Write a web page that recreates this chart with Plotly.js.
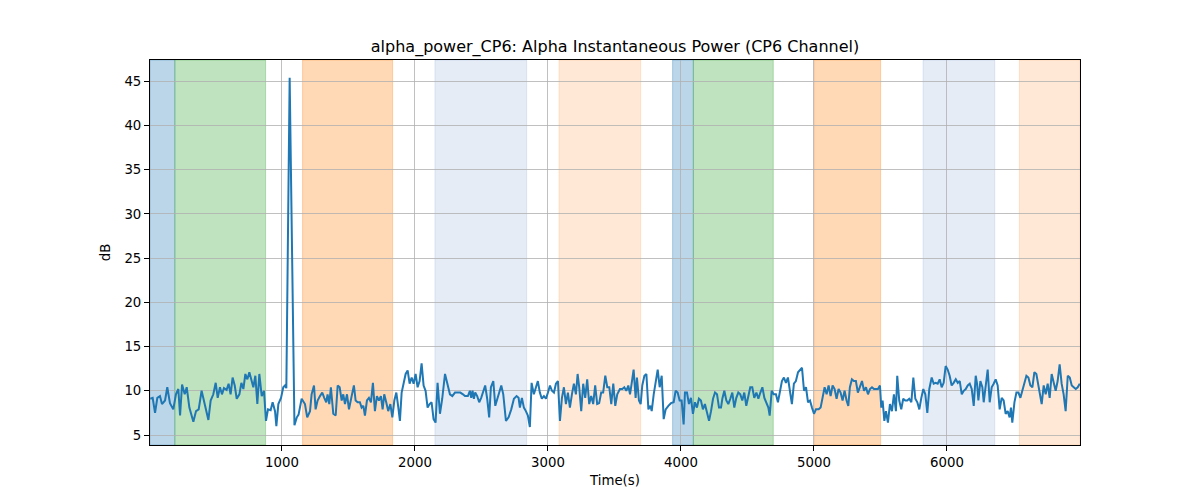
<!DOCTYPE html>
<html>
<head>
<meta charset="utf-8">
<script src="https://cdn.plot.ly/plotly-3.0.1.min.js"></script>
<style>html,body{margin:0;padding:0;background:#fff;}#chart{width:1200px;height:500px;}</style>
</head>
<body>
<div id="chart"></div>
<script>
// ---- data ----
const times = [
10,28,46,63,83,98,121,138,158,183,203,221,234,249,269,284,304,321,334,354,374,396,409,429,447,464,484,502,517,534,549,564,584,599,614,629,645,660,680,695,710,725,740,755,770,785,800,815,830,848,865,880,895,915,930,948,958,973,993,1010,1023,1033,1058,1094,1112,1125,1148,1173,1190,
1211,1223,1241,1253,1268,1286,1303,1318,1333,1343,1356,1368,1386,1404,1419,1434,1449,1461,1474,1489,1504,1524,1541,1554,1569,1586,1599,1612,1624,1639,1654,1669,1684,1699,1714,1729,1744,1757,1769,1784,1799,1815,1830,1845,1860,1875,1887,1900,1915,1930,1945,1960,1975,1990,2005,2020,2035,2050,2065,2080,2095,2110,2125,2140,2155,2170,2188,2205,2226,2246,2263,2281,2301,2321,2341,2361,2376,
2398,2413,2423,2433,2443,2453,2468,2483,2498,2513,2528,2543,2558,2571,2589,2604,2619,2634,2649,2664,2684,2704,2724,2744,2764,2779,2789,2804,2819,2834,2849,2864,2877,2894,2914,2924,2939,2954,2970,2985,3000,3015,3030,3045,3060,3075,3090,3105,3120,3135,3150,3165,3180,3195,3210,3223,3235,3250,3265,3280,3295,3310,3325,3340,3355,3370,3385,3400,3415,3431,3446,3461,3476,3491,3506,3521,3541,
3559,3574,3589,3604,3617,3629,3644,3659,3669,3684,3697,3709,3725,3740,3755,3770,3780,3795,3810,3825,3840,3855,3870,3885,3905,3925,3945,3960,3975,3990,4005,4020,4030,4045,4060,4075,4090,4105,4120,4135,4150,4165,4180,4196,4211,4226,4241,4256,4271,4286,4301,4311,4326,4341,4356,4371,4386,4401,4416,4431,4446,4461,4476,4491,4506,4521,4536,4551,4567,4582,4597,4612,4627,4642,4657,4667,4682,4697,
4714,4729,4744,4759,4774,4789,4804,4819,4834,4849,4864,4880,4895,4910,4925,4940,4955,4970,4985,5000,5015,5035,5050,5065,5080,5095,5110,5125,5140,5155,5170,5185,5200,5215,5230,5245,5258,5270,5285,5300,5315,5330,5346,5361,5376,5391,5406,5421,5436,5451,5466,5481,5496,5506,5516,5529,5541,5556,5571,5586,5601,5616,5626,5641,5656,5671,5686,5701,5716,5732,5747,5762,5777,5792,5807,5822,5837,5852,5867,
5885,5900,5915,5930,5945,5960,5975,5990,6005,6020,6035,6050,6066,6081,6096,6111,6126,6141,6156,6171,6186,6201,6216,6226,6236,6251,6266,6276,6291,6306,6321,6336,6351,6366,6381,6396,6411,6426,6441,6456,6471,6481,6491,6507,6522,6537,6552,6567,6582,6597,6612,6627,6642,6657,6672,6687,6702,6712,6727,6742,6757,6772,6787,6802,6817,6832,6847,6862,6877,6892,6908,6923,6938,6953,6968,6983,6998
];
const alphaPower = [
9.1,9.2,7.5,9.2,9.4,8.5,8.9,10.4,8.6,7.9,9.6,10.2,7.2,10.7,9.6,10.4,8.1,7.2,6.5,7.7,7.9,10.0,9.2,7.7,6.7,8.9,9.6,10.9,9.2,10.4,9.6,10.3,10.1,10.8,9.6,11.5,10.6,9.1,9.6,10.9,10.2,11.9,11.3,12.1,11.3,10.4,11.7,8.5,11.9,9.4,10.0,6.6,7.9,7.8,8.7,7.7,6.0,8.5,9.2,10.4,10.6,10.3,45.4,6.1,7.0,7.3,9.1,8.5,7.0,
7.7,9.6,10.6,7.9,8.9,9.4,9.8,9.2,8.7,9.6,8.5,10.4,7.4,7.2,10.6,10.4,8.9,9.6,8.5,9.6,7.9,9.4,10.6,8.9,8.7,8.7,8.1,8.3,7.2,8.9,9.2,8.7,10.9,7.7,9.4,8.9,9.4,7.9,9.6,8.7,7.7,8.5,7.0,8.9,9.8,8.1,6.6,9.8,11.1,11.9,12.3,10.8,11.5,10.8,11.9,10.4,11.1,13.1,10.6,10.0,8.1,8.5,8.7,6.8,6.4,10.9,7.4,9.1,11.9,10.8,9.6,9.4,9.8,9.8,9.8,9.6,9.4,
9.4,10.0,9.2,10.0,9.1,9.8,9.4,8.7,9.2,10.0,10.6,9.1,7.0,10.4,11.1,8.3,9.1,10.0,10.6,9.6,6.6,7.0,7.9,9.1,9.4,9.2,8.1,9.2,8.1,7.7,7.2,5.9,10.9,9.6,10.6,11.1,9.8,9.1,9.4,9.1,9.8,10.6,10.0,9.8,10.8,11.1,6.6,9.2,10.4,8.5,9.8,8.1,9.6,10.8,9.6,11.9,10.4,7.7,10.8,9.2,11.3,8.5,9.4,8.5,10.6,8.5,8.6,9.8,9.8,11.7,10.4,10.4,8.5,10.8,8.3,9.6,10.2,
10.2,10.4,10.0,10.6,9.6,10.8,12.4,9.2,11.5,8.9,8.5,10.6,11.7,11.9,7.9,8.3,7.7,9.6,10.9,12.4,10.4,11.7,6.8,7.9,8.3,8.6,8.7,10.0,9.8,8.9,8.9,6.2,9.8,9.8,8.5,9.2,7.4,8.7,8.1,9.1,8.9,7.9,8.5,7.4,6.6,7.7,9.1,9.8,9.6,8.1,8.1,9.1,10.0,8.9,8.5,9.1,9.8,8.1,9.2,9.8,9.6,8.9,9.8,8.3,9.2,10.4,10.4,9.2,9.8,9.1,9.8,10.4,9.2,8.7,8.1,7.2,10.0,9.6,
9.6,8.7,10.0,11.1,11.5,10.9,11.5,10.2,8.5,10.8,11.1,12.1,12.3,12.6,10.0,10.4,8.7,8.9,8.1,7.4,7.9,7.9,8.1,9.2,10.4,9.6,10.6,9.4,10.6,10.2,9.1,10.2,9.8,8.9,10.0,8.9,8.3,10.4,11.3,11.1,11.1,9.8,10.6,11.1,10.0,10.4,9.6,10.2,10.4,10.2,10.2,10.2,10.6,8.1,8.9,6.6,7.7,6.4,8.5,7.7,9.6,7.7,11.7,8.9,7.9,9.1,8.9,8.9,9.1,8.7,11.5,9.1,8.7,7.9,9.2,10.2,9.6,7.5,10.2,
11.5,10.8,10.9,10.8,11.3,10.4,10.9,12.8,12.4,11.7,10.6,10.9,11.3,10.9,11.1,9.6,10.0,10.2,10.6,10.8,10.2,8.3,11.7,10.8,8.9,11.1,10.4,8.7,10.8,12.4,8.7,10.4,10.8,11.3,10.6,7.9,9.2,8.9,7.4,7.7,7.0,8.1,6.4,8.7,9.8,9.8,9.2,10.0,10.8,11.7,11.5,10.6,10.4,12.1,11.9,10.6,9.6,8.5,10.6,9.6,10.8,9.2,11.9,11.1,10.0,11.1,13.0,10.8,9.6,7.7,11.7,11.5,10.6,10.4,10.2,10.4,10.8
];
// shaded segments (start, end in seconds) and their kind
const regionStart = [10, 195, 1155, 2150, 3083, 3937, 4093, 5002, 5820, 6544];
const regionEnd   = [195, 877, 1832, 2840, 3697, 4093, 4694, 5501, 6359, 7000];
const regionKind  = ["blue","green","orange","lightblue","lightorange","blue","green","orange","lightblue","lightorange"];
const xTicks = [1000, 2000, 3000, 4000, 5000, 6000];
const yTicks = [5, 10, 15, 20, 25, 30, 35, 40, 45];

// ---- styles ----
const kindStyle = {
  blue:        {fill: "rgba(31,119,180,0.3)",  line: "rgba(31,119,180,0.3)"},
  green:       {fill: "rgba(44,160,44,0.3)",   line: "rgba(44,160,44,0.3)"},
  orange:      {fill: "rgba(255,127,14,0.3)",  line: "rgba(255,127,14,0.3)"},
  lightblue:   {fill: "rgba(82,128,195,0.15)", line: "rgba(82,128,195,0.15)"},
  lightorange: {fill: "rgba(255,127,14,0.17)", line: "rgba(255,127,14,0.17)"}
};
const shapes = regionStart.map((s, i) => ({
  type: "rect", xref: "x", yref: "paper", x0: s, x1: regionEnd[i], y0: 0, y1: 1,
  fillcolor: kindStyle[regionKind[i]].fill,
  line: {width: 1, color: kindStyle[regionKind[i]].line},
  layer: "below"
}));

const font = "DejaVu Sans, Liberation Sans, sans-serif";
const trace = {
  x: times, y: alphaPower, type: "scatter", mode: "lines",
  line: {color: "#1f77b4", width: 2}, hoverinfo: "x+y"
};
const axisCommon = {
  showgrid: true, gridcolor: "#b0b0b0", gridwidth: 0.8,
  showline: true, linecolor: "#000", linewidth: 1, mirror: true,
  ticks: "outside", ticklen: 5, tickcolor: "#000", tickwidth: 1,
  zeroline: false, tickfont: {family: font, size: 13.3, color: "#000"},
  automargin: false
};
const layout = {
  width: 1200, height: 500,
  margin: {l: 150, r: 120, t: 60, b: 55},
  paper_bgcolor: "#fff", plot_bgcolor: "#fff",
  font: {family: font, color: "#000"},
  showlegend: false,
  title: {text: "alpha_power_CP6: Alpha Instantaneous Power (CP6 Channel)",
          font: {family: font, size: 16, color: "#000"},
          x: 0.5, xref: "paper", xanchor: "center", y: 0.908, yref: "container", yanchor: "middle"},
  xaxis: Object.assign({}, axisCommon, {
    range: [8, 7000], tickvals: xTicks, ticktext: xTicks.map(String),
    title: {text: "Time(s)", font: {family: font, size: 13.3, color: "#000"}, standoff: 6}
  }),
  yaxis: Object.assign({}, axisCommon, {
    range: [3.87, 47.4], tickvals: yTicks, ticktext: yTicks.map(String),
    title: {text: "dB", font: {family: font, size: 13.3, color: "#000"}, standoff: 10}
  }),
  shapes: shapes
};
Plotly.newPlot("chart", [trace], layout, {displayModeBar: false, staticPlot: true});
</script>
</body>
</html>
